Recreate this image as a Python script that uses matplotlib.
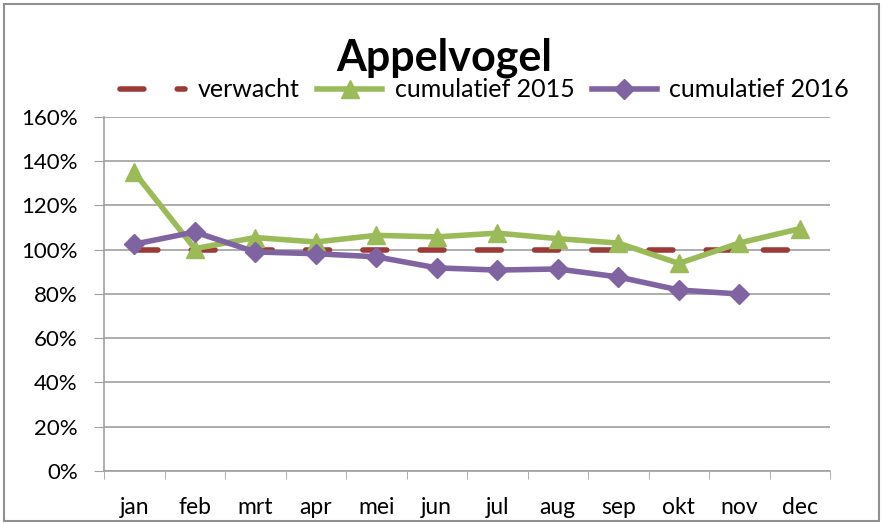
import matplotlib.pyplot as plt
import numpy as np
from matplotlib.ticker import FuncFormatter, FixedLocator

months = ["jan", "feb", "mrt", "apr", "mei", "jun", "jul", "aug", "sep", "okt", "nov", "dec"]
verwacht = [100, 100, 100, 100, 100, 100, 100, 100, 100, 100, 100, 100]
cum_2015 = [135, 100.5, 105.5, 103.5, 106.5, 105.8, 107.5, 105, 103, 93.8, 103, 109.5]
cum_2016 = [102.5, 108, 99, 98.2, 96.8, 91.8, 90.8, 91.3, 87.7, 81.8, 80]

plt.rcParams['font.family'] = ['Lato', 'DejaVu Sans']

fig = plt.figure(figsize=(8.83, 5.23), dpi=100)
ax = fig.add_axes([0.1178, 0.0994, 0.8222, 0.677])

x = np.arange(len(months))
ax.plot(x, verwacht, color="#9b3b37", lw=4, dashes=(4.3, 6), dash_capstyle="round",
        label="verwacht", zorder=2)
ax.plot(x, cum_2015, color="#9bbb59", lw=4, marker="^", ms=13, label="cumulatief 2015", zorder=3)
ax.plot(x[:len(cum_2016)], cum_2016, color="#8064a2", lw=4, marker="D", ms=10,
        label="cumulatief 2016", zorder=4)

ax.set_xlim(-0.5, 11.5)
ax.set_ylim(0, 160)
ax.set_yticks(np.arange(0, 161, 20))
ax.yaxis.set_major_formatter(FuncFormatter(lambda v, p: f"{int(v)}%"))
ax.set_xticks(x)
ax.set_xticklabels(months)
ax.xaxis.set_minor_locator(FixedLocator(np.arange(-0.5, 12, 1)))
ax.tick_params(axis="x", which="major", length=0, pad=19, labelsize=16.5)
ax.tick_params(axis="x", which="minor", length=6, color="#a0a0a0", direction="out")
ax.tick_params(axis="y", length=7, color="#a0a0a0", labelsize=16, pad=12)
ax.grid(axis="y", color="#a0a0a0", lw=1.2)
ax.set_axisbelow(True)
for s in ["top", "right"]:
    ax.spines[s].set_visible(False)
for s in ["left", "bottom"]:
    ax.spines[s].set_color("#a0a0a0")
    ax.spines[s].set_linewidth(1.2)

fig.text(0.503, 0.89, "Appelvogel", ha="center", va="center", fontsize=31, fontweight="bold")
fig.legend(loc="center", bbox_to_anchor=(0.549, 0.828), ncol=3, frameon=False, fontsize=18,
           handlelength=2.6, handletextpad=0.5, columnspacing=0.7)

# chart border
fig.patches.append(plt.Rectangle((0.005, 0.004), 0.99, 0.988, transform=fig.transFigure,
                                 fill=False, edgecolor="#909090", lw=1.5))

fig.savefig("out.png", dpi=100)
